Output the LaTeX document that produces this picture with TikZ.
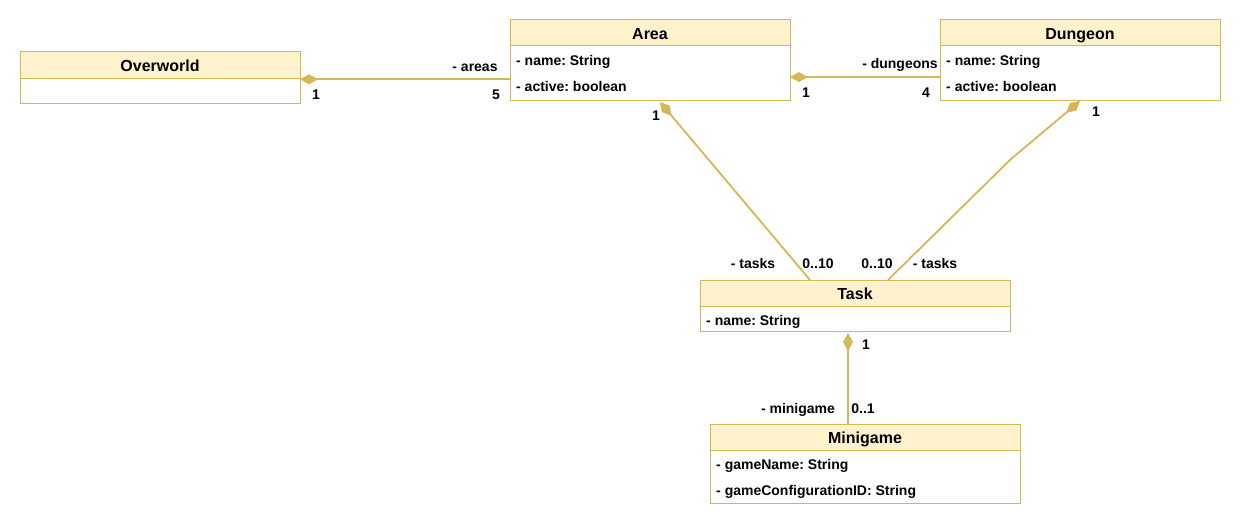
\documentclass[tikz,border=0pt]{standalone}
\usepackage{fontspec}
\setmainfont{Liberation Sans}
\frenchspacing
\usetikzlibrary{positioning,arrows.meta}
\definecolor{umlline}{HTML}{D6B656}
\definecolor{umlhead}{HTML}{FFF2CC}
\pgfdeclarelayer{bg}
\pgfsetlayers{bg,main}
\tikzset{
  head/.style={draw=umlline, fill=umlhead, line width=1pt, outer sep=0pt, inner sep=0pt,
    minimum height=26pt, text height=13pt, text depth=0pt, font=\bfseries\fontsize{16}{18}\selectfont},
  body/.style={draw=umlline, fill=white, line width=1pt, outer sep=0pt, inner sep=0pt},
  attr/.style={anchor=base west, inner sep=0pt, font=\bfseries\fontsize{14}{16}\selectfont},
  mult/.style={anchor=base, inner sep=0pt, font=\bfseries\fontsize{14}{16}\selectfont},
  comp/.style={draw=umlline, line width=1.8pt, {Diamond[length=18pt,width=10pt,fill=umlline]}-}
}

\begin{document}
\begin{tikzpicture}[x=1pt,y=-1pt]
        \useasboundingbox (0,0) rectangle (1241,527);
        % classes
        \node (ow) [head, minimum width=280pt] at (160,65) {Overworld};
        \node (owbody) [body, minimum width=280pt, minimum height=25pt, below=0pt of ow] {};
        \node (area) [head, minimum width=280pt] at (650,33) {Area};
        \node (areabody) [body, minimum width=280pt, minimum height=54pt, below=0pt of area] {};
        \node (dg) [head, minimum width=280pt] at (1080,33) {Dungeon};
        \node (dgbody) [body, minimum width=280pt, minimum height=54pt, below=0pt of dg] {};
        \node (task) [head, minimum width=310pt] at (855,293) {Task};
        \node (taskbody) [body, minimum width=310pt, minimum height=25pt, below=0pt of task] {};
        \node (mg) [head, minimum width=310pt] at (865,437) {Minigame};
        \node (mgbody) [body, minimum width=310pt, minimum height=53pt, below=0pt of mg] {};
        % attributes
        \node (a1) [attr] at (516,66) {- name: String};
        \node (a2) [attr] at (516,92) {- active: boolean};
        \node (d1) [attr] at (946,66) {- name: String};
        \node (d2) [attr] at (946,92) {- active: boolean};
        \node (t1) [attr] at (706,325) {- name: String};
        \node (m1) [attr] at (716,469) {- gameName: String};
        \node (m2) [attr] at (716,495) {- gameConfigurationID: String};
        % ends
        \node (l0) [mult] at (475,71) {- areas};
        \node (l1) [mult] at (316,99) {1};
        \node (l2) [mult] at (496,99) {5};
        \node (l3) [mult] at (900,69) {- dungeons};
        \node (l4) [mult] at (806,97) {1};
        \node (l5) [mult] at (926,97) {4};
        \node (l6) [mult] at (656,120) {1};
        \node (l7) [mult] at (753,268) {- tasks};
        \node (l8) [mult] at (818,268) {0..10};
        \node (l9) [mult] at (1096,116) {1};
        \node (l10) [mult] at (877,268) {0..10};
        \node (l11) [mult] at (935,268) {- tasks};
        \node (l12) [mult] at (866,349) {1};
        \node (l13) [mult] at (798,413) {- minigame};
        \node (l14) [mult] at (863,413) {0..1};
        \begin{pgfonlayer}{bg}
                \draw [comp] ([yshift=-1.3pt]owbody.north east) -- ([yshift=-6.3pt]areabody.west);
                \draw [comp] ([yshift=-4pt]areabody.east) -- ([yshift=-4pt]dgbody.west);
                \draw [comp] ([xshift=10pt,yshift=-2pt]areabody.south) -- ([xshift=-45pt]task.north);
                \draw [comp] ([yshift=-1pt]dgbody.south) -- ++(-69,58) -- ([xshift=33pt]task.north);
                \draw [comp] ([xshift=-7pt,yshift=-2pt]taskbody.south) -- ([xshift=-17pt]mg.north);
        \end{pgfonlayer}
\end{tikzpicture}
\end{document}
